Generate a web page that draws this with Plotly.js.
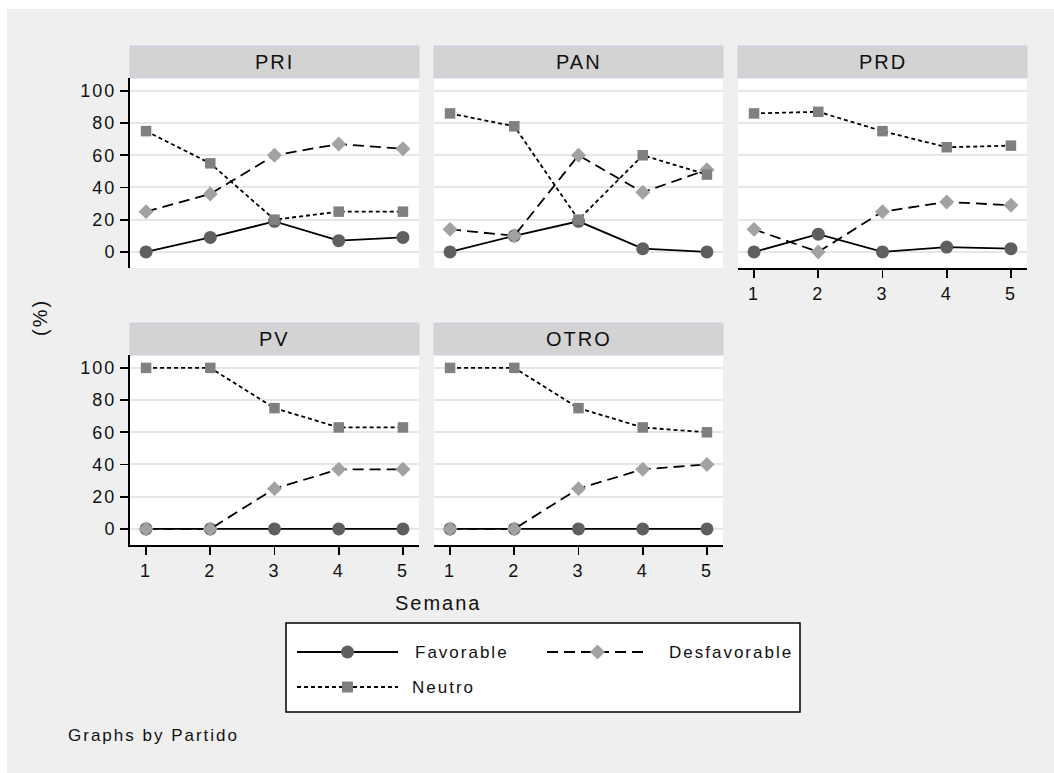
<!DOCTYPE html>
<html>
<head>
<meta charset="utf-8">
<script src="https://cdn.plot.ly/plotly-3.0.1.min.js"></script>
<style>
html,body{margin:0;padding:0;background:#fff;}
#chart{width:1054px;height:773px;}
#chart svg text{letter-spacing:2px;}
</style>
</head>
<body>
<div id="chart"></div>
<script>
// ---- data ----
const semanas = [1, 2, 3, 4, 5];
const partidos = ['PRI', 'PAN', 'PRD', 'PV', 'OTRO'];
const seriesNames = ['Favorable', 'Desfavorable', 'Neutro'];

const favPRI  = [0, 9, 19, 7, 9];
const desfPRI = [25, 36, 60, 67, 64];
const neuPRI  = [75, 55, 20, 25, 25];

const favPAN  = [0, 10, 19, 2, 0];
const desfPAN = [14, 10, 60, 37, 51];
const neuPAN  = [86, 78, 20, 60, 48];

const favPRD  = [0, 11, 0, 3, 2];
const desfPRD = [14, 0, 25, 31, 29];
const neuPRD  = [86, 87, 75, 65, 66];

const favPV   = [0, 0, 0, 0, 0];
const desfPV  = [0, 0, 25, 37, 37];
const neuPV   = [100, 100, 75, 63, 63];

const favOTRO  = [0, 0, 0, 0, 0];
const desfOTRO = [0, 0, 25, 37, 40];
const neuOTRO  = [100, 100, 75, 63, 60];

const yTicks = [0, 20, 40, 60, 80, 100];
const xTicks = [1, 2, 3, 4, 5];

// ---- build ----
const panelData = {
  PRI: [favPRI, desfPRI, neuPRI],
  PAN: [favPAN, desfPAN, neuPAN],
  PRD: [favPRD, desfPRD, neuPRD],
  PV: [favPV, desfPV, neuPV],
  OTRO: [favOTRO, desfOTRO, neuOTRO]
};

const W = 1054, H = 773;
const fx = p => p / W;
const fy = p => 1 - p / H;
const FONT = 'Liberation Sans, Arial, sans-serif';

const styles = [
  {line: {color: '#000', width: 1.8, dash: 'solid'}, marker: {symbol: 'circle', size: 13, color: '#5f5f5f', line: {width: 0}}},
  {line: {color: '#000', width: 1.8, dash: '11px,6px'}, marker: {symbol: 'diamond', size: 11.5, color: '#a2a2a2', line: {width: 0}}},
  {line: {color: '#000', width: 1.8, dash: '4px,3px'}, marker: {symbol: 'square', size: 10.5, color: '#808080', line: {width: 0}}}
];

const cols = [[130, 419], [434, 723], [738, 1027]];
const rows = [[78, 268], [355, 545]];
const pos = [[0, 0], [0, 1], [0, 2], [1, 0], [1, 1]]; // [row, col]
const bottomPanels = [2, 3, 4];
const leftPanels = [0, 3];

const traces = [];
const layout = {
  width: W, height: H,
  margin: {l: 0, r: 0, t: 0, b: 0},
  paper_bgcolor: '#efefef',
  plot_bgcolor: '#ffffff',
  showlegend: false,
  font: {family: FONT, color: '#111', size: 16},
  shapes: [],
  annotations: []
};

partidos.forEach((p, i) => {
  const n = i + 1;
  const xa = 'x' + (n === 1 ? '' : n), ya = 'y' + (n === 1 ? '' : n);
  const [r, c] = pos[i];
  const isBottom = bottomPanels.includes(i);
  const isLeft = leftPanels.includes(i);
  panelData[p].forEach((vals, s) => {
    traces.push({
      type: 'scatter', mode: 'lines+markers',
      x: semanas, y: vals, name: seriesNames[s],
      xaxis: xa, yaxis: ya,
      line: styles[s].line, marker: styles[s].marker,
      cliponaxis: false
    });
  });
  layout['xaxis' + (n === 1 ? '' : n)] = {
    domain: [fx(cols[c][0]), fx(cols[c][1])],
    range: [0.75, 5.25], anchor: ya,
    showgrid: false, zeroline: false,
    showline: isBottom, linecolor: '#000', linewidth: 2,
    ticks: isBottom ? 'outside' : '', ticklen: 8, tickwidth: 1.8, tickcolor: '#000',
    tickvals: xTicks, showticklabels: isBottom,
    tickfont: {size: 18, family: FONT, color: '#111'}
  };
  layout['yaxis' + (n === 1 ? '' : n)] = {
    domain: [fy(rows[r][1]), fy(rows[r][0])],
    range: [-10, 108], anchor: xa,
    showgrid: true, gridcolor: '#e6e6e6', gridwidth: 2, zeroline: false,
    showline: isLeft, linecolor: '#000', linewidth: 2,
    ticks: isLeft ? 'outside' : '', ticklen: 8, tickwidth: 1.8, tickcolor: '#000',
    tickvals: yTicks, showticklabels: isLeft,
    tickfont: {size: 18, family: FONT, color: '#111'}
  };
  // strip header
  const sy0 = rows[r][0] - 32, sy1 = rows[r][0];
  layout.shapes.push({
    type: 'rect', xref: 'paper', yref: 'paper', layer: 'above',
    x0: fx(cols[c][0]), x1: fx(cols[c][1]), y0: fy(sy1), y1: fy(sy0),
    fillcolor: '#d3d3d3', line: {color: '#c6d0e4', width: 1}
  });
  layout.annotations.push({
    xref: 'paper', yref: 'paper', x: fx((cols[c][0] + cols[c][1]) / 2), y: fy((sy0 + sy1) / 2),
    text: p, showarrow: false, xanchor: 'center', yanchor: 'middle',
    font: {size: 20, family: FONT, color: '#111'}
  });
});

// white border top/left
layout.shapes.push({type: 'rect', xref: 'paper', yref: 'paper', layer: 'below', x0: 0, x1: 1, y0: fy(9), y1: 1, fillcolor: '#fff', line: {width: 0}});
layout.shapes.push({type: 'rect', xref: 'paper', yref: 'paper', layer: 'below', x0: 0, x1: fx(7), y0: 0, y1: 1, fillcolor: '#fff', line: {width: 0}});

// axis titles
layout.annotations.push({
  xref: 'paper', yref: 'paper', x: fx(40), y: fy(318), text: '(%)', textangle: -90,
  showarrow: false, xanchor: 'center', yanchor: 'middle', font: {size: 20, family: FONT, color: '#111'}
});
layout.annotations.push({
  xref: 'paper', yref: 'paper', x: fx(438), y: fy(603), text: 'Semana',
  showarrow: false, xanchor: 'center', yanchor: 'middle', font: {size: 20, family: FONT, color: '#111'}
});
layout.annotations.push({
  xref: 'paper', yref: 'paper', x: fx(153), y: fy(735), text: 'Graphs by Partido',
  showarrow: false, xanchor: 'center', yanchor: 'middle', font: {size: 17, family: FONT, color: '#111'}
});

// legend box (drawn)
layout.shapes.push({
  type: 'rect', xref: 'paper', yref: 'paper', layer: 'above',
  x0: fx(286), x1: fx(800), y0: fy(712), y1: fy(623),
  fillcolor: '#fff', line: {color: '#000', width: 1.5}
});
const legendItems = [
  {s: 0, lx0: 297, lx1: 398, y: 652, tx: 462},
  {s: 1, lx0: 547, lx1: 648, y: 652, tx: 731},
  {s: 2, lx0: 297, lx1: 398, y: 687, tx: 443}
];
legendItems.forEach(it => {
  const st = styles[it.s];
  layout.shapes.push({
    type: 'line', xref: 'paper', yref: 'paper', layer: 'above',
    x0: fx(it.lx0), x1: fx(it.lx1), y0: fy(it.y), y1: fy(it.y),
    line: {color: '#000', width: 1.8, dash: st.line.dash}
  });
  const cx = (it.lx0 + it.lx1) / 2, cy = it.y;
  if (st.marker.symbol === 'circle') {
    layout.shapes.push({type: 'circle', xref: 'paper', yref: 'paper', layer: 'above',
      x0: fx(cx - 6.5), x1: fx(cx + 6.5), y0: fy(cy + 6.5), y1: fy(cy - 6.5),
      fillcolor: st.marker.color, line: {width: 0}});
  } else if (st.marker.symbol === 'diamond') {
    const d = 7.5;
    layout.shapes.push({type: 'path', xref: 'paper', yref: 'paper', layer: 'above',
      path: `M${fx(cx - d)},${fy(cy)} L${fx(cx)},${fy(cy - d)} L${fx(cx + d)},${fy(cy)} L${fx(cx)},${fy(cy + d)} Z`,
      fillcolor: st.marker.color, line: {width: 0}});
  } else {
    const d = 5.5;
    layout.shapes.push({type: 'rect', xref: 'paper', yref: 'paper', layer: 'above',
      x0: fx(cx - d), x1: fx(cx + d), y0: fy(cy + d), y1: fy(cy - d),
      fillcolor: st.marker.color, line: {width: 0}});
  }
  layout.annotations.push({
    xref: 'paper', yref: 'paper', x: fx(it.tx), y: fy(it.y), text: seriesNames[it.s],
    showarrow: false, xanchor: 'center', yanchor: 'middle', font: {size: 17, family: FONT, color: '#111'}
  });
});

Plotly.newPlot('chart', traces, layout, {displayModeBar: false, staticPlot: true});
</script>
</body>
</html>
